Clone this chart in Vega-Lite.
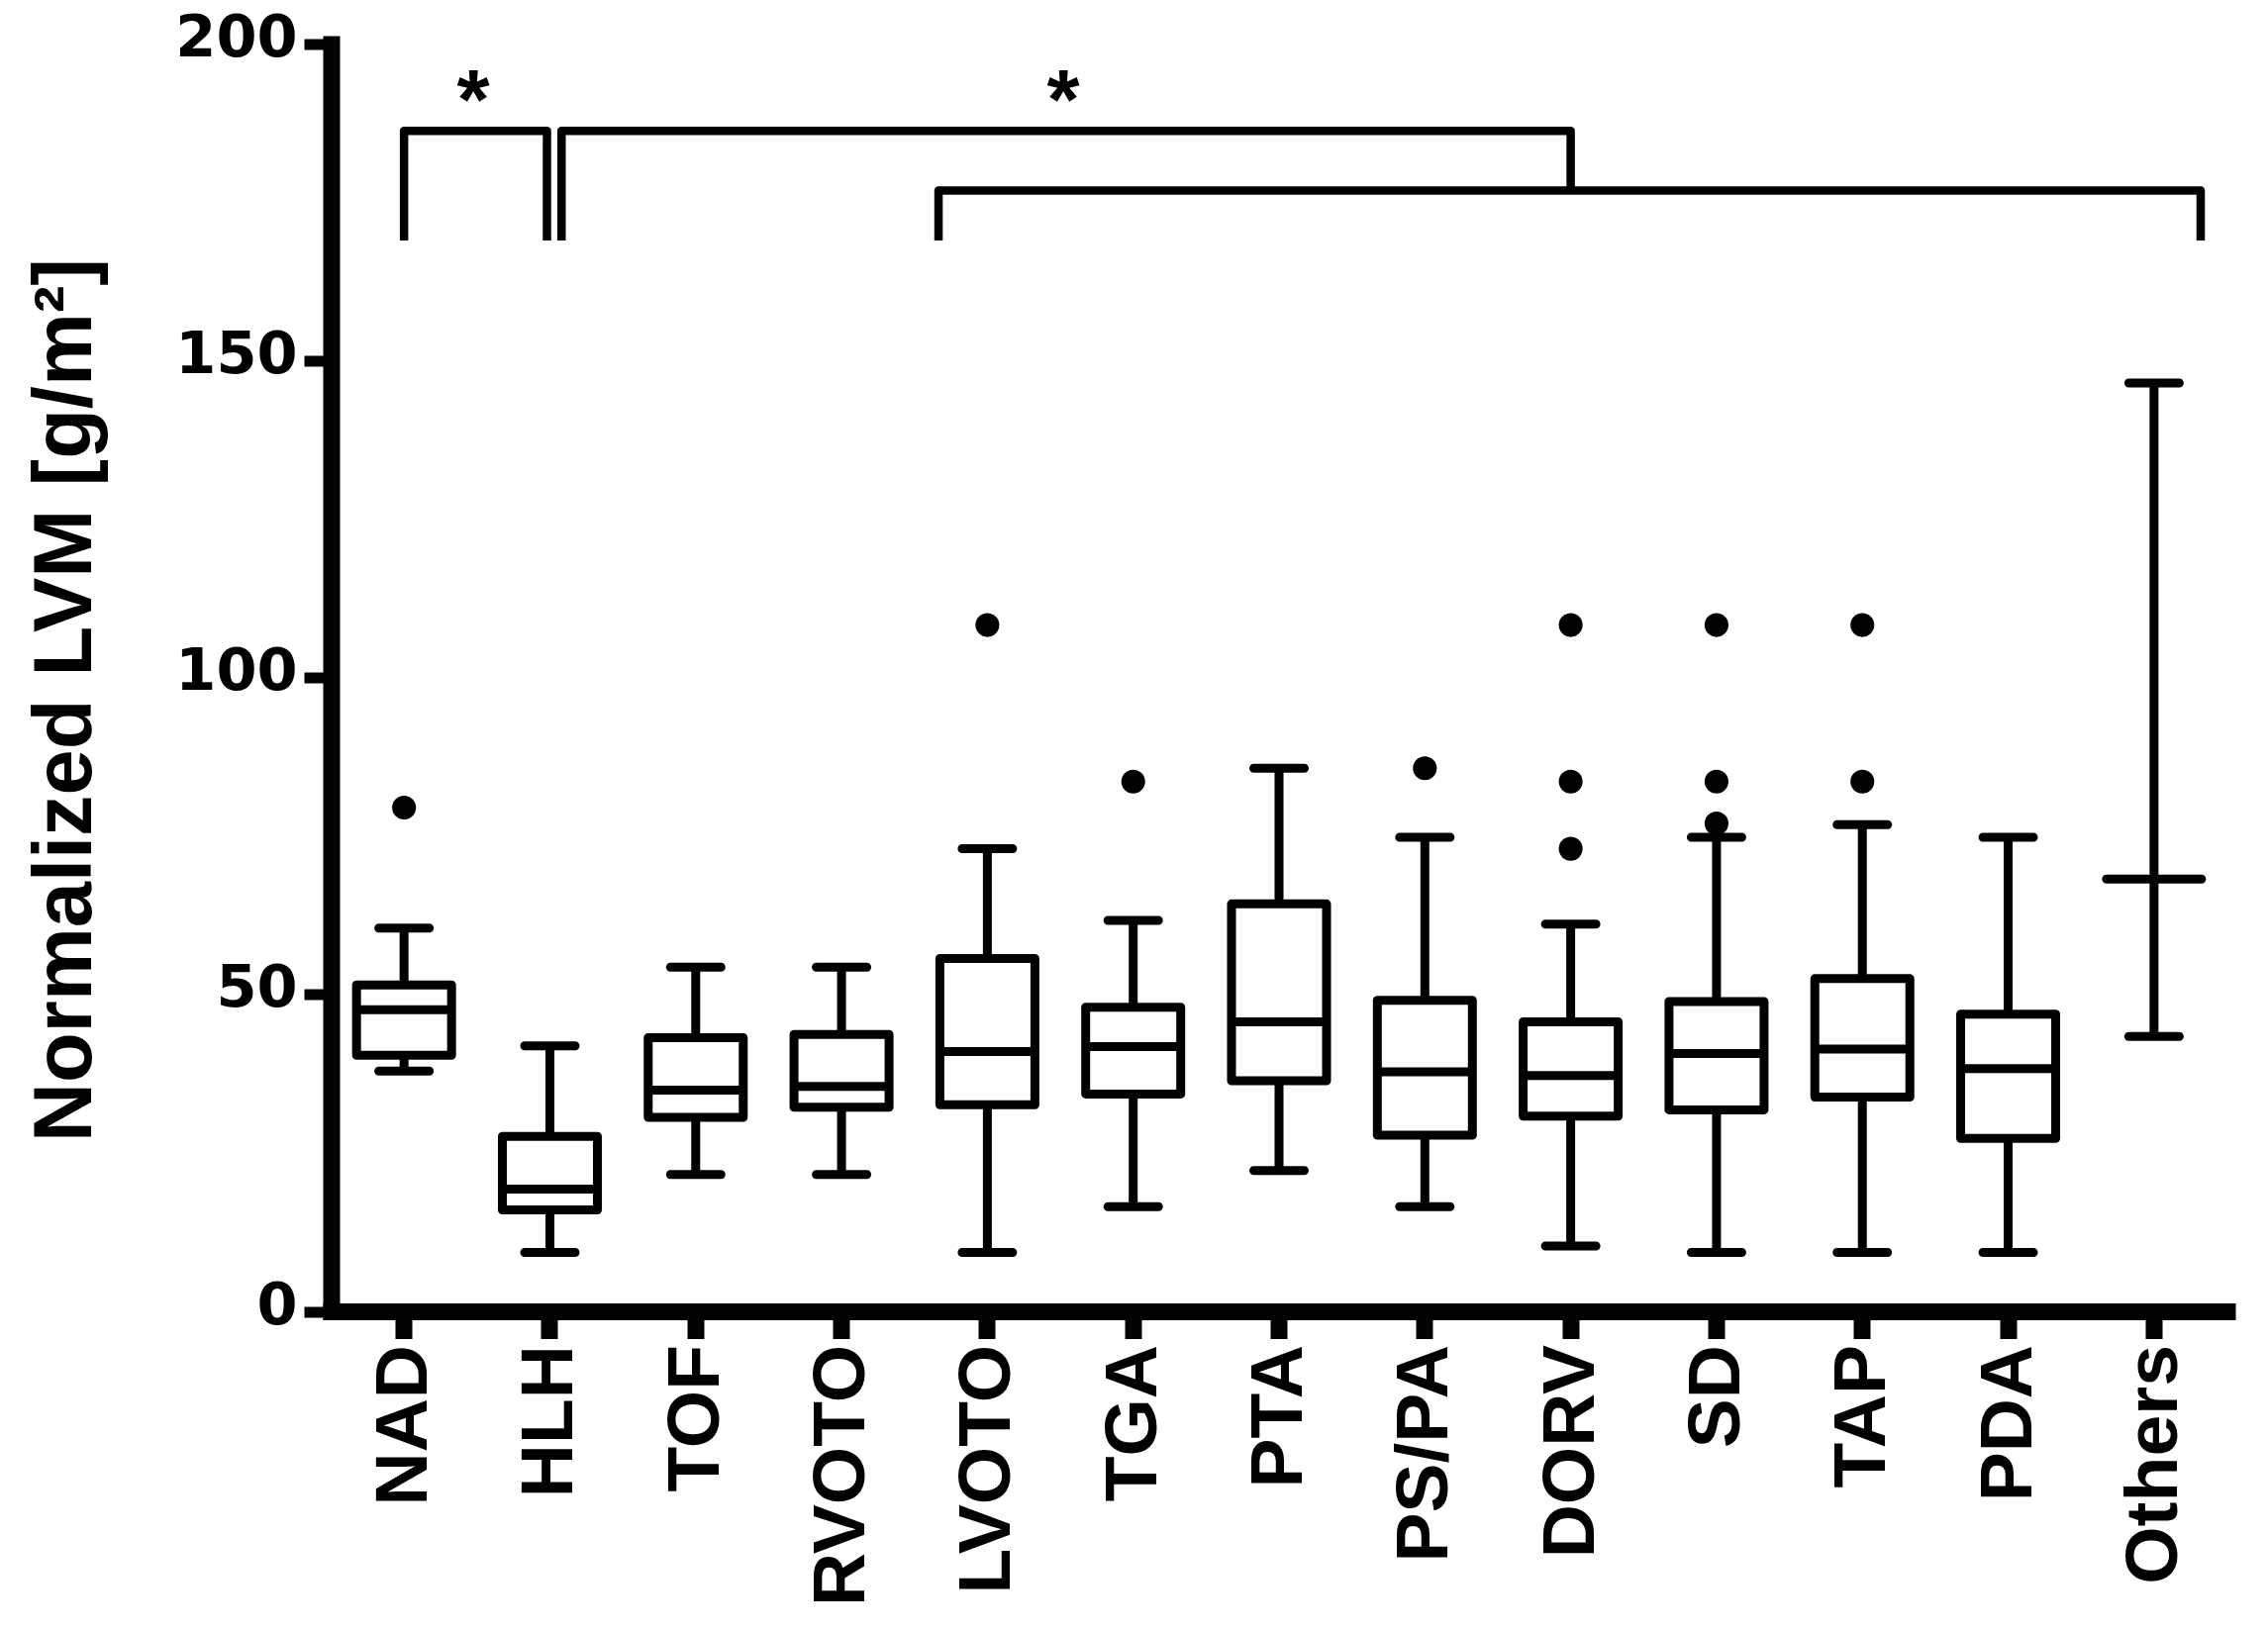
{
  "$schema": "https://vega.github.io/schema/vega-lite/v6.json",
  "width": 1915,
  "height": 1280.5,
  "autosize": {"type": "none"},
  "padding": {"left": 334.5, "top": 44.5, "right": 41.5, "bottom": 323},
  "background": "white",
  "config": {
    "view": {"stroke": null},
    "axis": {"grid": false, "domainColor": "black", "tickColor": "black", "labelColor": "black", "titleColor": "black", "labelOverlap": false, "labelFlush": false, "domainCap": "square", "labelLimit": 0},
    "axisX": {"domainWidth": 17, "tickWidth": 17, "tickSize": 27.5, "labelFont": "Liberation Sans", "labelFontWeight": "bold", "labelFontSize": 75, "labelAngle": -90, "labelPadding": 6},
    "axisY": {"domainWidth": 17, "tickWidth": 11, "tickSize": 27.5, "labelFont": "DejaVu Sans", "labelFontWeight": "bold", "labelFontSize": 59, "labelPadding": 7, "labelOffset": -6, "titleFont": "Liberation Sans", "titleFontWeight": "bold", "titleFontSize": 83, "titleX": -243.5, "titleY": 662.5, "titleAngle": -90, "titleAlign": "center", "titleBaseline": "alphabetic"}
  },
  "datasets": {
    "boxes": [
      {"group": "NAD", "lo": 37.9, "q1": 40.4, "med": 47.6, "q3": 51.5, "hi": 60.5},
      {"group": "HLH", "lo": 9.3, "q1": 16.0, "med": 19.3, "q3": 27.6, "hi": 41.9},
      {"group": "TOF", "lo": 21.6, "q1": 30.6, "med": 34.9, "q3": 43.2, "hi": 54.3},
      {"group": "RVOTO", "lo": 21.6, "q1": 32.2, "med": 35.5, "q3": 43.7, "hi": 54.3},
      {"group": "LVOTO", "lo": 9.3, "q1": 32.6, "med": 41.0, "q3": 55.7, "hi": 73.0},
      {"group": "TGA", "lo": 16.5, "q1": 34.3, "med": 41.8, "q3": 48.0, "hi": 61.7},
      {"group": "PTA", "lo": 22.2, "q1": 36.4, "med": 45.7, "q3": 64.3, "hi": 85.7},
      {"group": "PS/PA", "lo": 16.5, "q1": 27.8, "med": 37.8, "q3": 49.1, "hi": 74.8},
      {"group": "DORV", "lo": 10.3, "q1": 30.8, "med": 37.2, "q3": 45.7, "hi": 61.1},
      {"group": "SD", "lo": 9.3, "q1": 31.8, "med": 40.7, "q3": 48.9, "hi": 74.8},
      {"group": "TAP", "lo": 9.3, "q1": 33.8, "med": 41.4, "q3": 52.5, "hi": 76.8},
      {"group": "PDA", "lo": 9.3, "q1": 27.3, "med": 38.3, "q3": 46.9, "hi": 74.8},
      {"group": "Others", "lo": 43.4, "q1": null, "med": 68.2, "q3": null, "hi": 146.5}
    ],
    "outliers": [
      {"group": "NAD", "value": 79.5},
      {"group": "LVOTO", "value": 108.3},
      {"group": "TGA", "value": 83.6},
      {"group": "PS/PA", "value": 85.7},
      {"group": "DORV", "value": 108.3},
      {"group": "DORV", "value": 83.6},
      {"group": "DORV", "value": 73.0},
      {"group": "SD", "value": 108.3},
      {"group": "SD", "value": 83.6},
      {"group": "SD", "value": 77.0},
      {"group": "TAP", "value": 108.3},
      {"group": "TAP", "value": 83.6}
    ],
    "brackets": [
      {"id": 1, "ord": 0, "bx": 0.5, "by": 169.0},
      {"id": 1, "ord": 1, "bx": 0.5, "by": 186.3},
      {"id": 1, "ord": 2, "bx": 1.48, "by": 186.3},
      {"id": 1, "ord": 3, "bx": 1.48, "by": 169.0},
      {"id": 2, "ord": 0, "bx": 1.58, "by": 169.0},
      {"id": 2, "ord": 1, "bx": 1.58, "by": 186.3},
      {"id": 2, "ord": 2, "bx": 8.5, "by": 186.3},
      {"id": 2, "ord": 3, "bx": 8.5, "by": 176.9},
      {"id": 3, "ord": 0, "bx": 4.165, "by": 169.0},
      {"id": 3, "ord": 1, "bx": 4.165, "by": 176.9},
      {"id": 3, "ord": 2, "bx": 12.82, "by": 176.9},
      {"id": 3, "ord": 3, "bx": 12.82, "by": 169.0}
    ],
    "stars": [
      {"sx": 0.974, "sy": 186.3, "label": "*"},
      {"sx": 5.02, "sy": 186.3, "label": "*"}
    ]
  },
  "layer": [
    {
      "encoding": {
        "x": {"field": "group", "type": "nominal", "title": null,
              "scale": {"domain": ["NAD", "HLH", "TOF", "RVOTO", "LVOTO", "TGA", "PTA", "PS/PA", "DORV", "SD", "TAP", "PDA", "Others"], "paddingInner": 0, "paddingOuter": 0}}
      },
      "layer": [
        {
          "data": {"name": "boxes"},
          "mark": {"type": "rule", "color": "black", "strokeWidth": 9},
          "encoding": {
            "y": {"field": "lo", "type": "quantitative", "title": "Normalized LVM [g/m²]", "scale": {"domain": [0, 200], "nice": false}, "axis": {"values": [0, 50, 100, 150, 200]}},
            "y2": {"field": "hi"}
          }
        },
        {
          "data": {"name": "boxes"},
          "transform": [{"filter": "datum.q1 != null"}],
          "mark": {"type": "bar", "fill": "white", "stroke": "black", "strokeWidth": 9, "width": 96, "strokeJoin": "round"},
          "encoding": {
            "y": {"field": "q1", "type": "quantitative", "title": "Normalized LVM [g/m²]"},
            "y2": {"field": "q3"}
          }
        },
        {
          "data": {"name": "boxes"},
          "transform": [{"filter": "datum.q1 != null"}],
          "mark": {"type": "tick", "color": "black", "thickness": 9, "size": 96, "opacity": 1},
          "encoding": {
            "y": {"field": "med", "type": "quantitative", "title": "Normalized LVM [g/m²]"}
          }
        },
        {
          "data": {"name": "boxes"},
          "transform": [{"filter": "datum.q1 == null"}],
          "mark": {"type": "tick", "color": "black", "thickness": 9, "size": 105, "opacity": 1, "cornerRadius": 4.5},
          "encoding": {
            "y": {"field": "med", "type": "quantitative", "title": "Normalized LVM [g/m²]"}
          }
        },
        {
          "data": {"name": "boxes"},
          "mark": {"type": "tick", "color": "black", "thickness": 9, "size": 60, "opacity": 1, "cornerRadius": 4.5},
          "encoding": {
            "y": {"field": "lo", "type": "quantitative", "title": "Normalized LVM [g/m²]"}
          }
        },
        {
          "data": {"name": "boxes"},
          "mark": {"type": "tick", "color": "black", "thickness": 9, "size": 60, "opacity": 1, "cornerRadius": 4.5},
          "encoding": {
            "y": {"field": "hi", "type": "quantitative", "title": "Normalized LVM [g/m²]"}
          }
        },
        {
          "data": {"name": "outliers"},
          "mark": {"type": "point", "filled": true, "color": "black", "size": 580, "opacity": 1},
          "encoding": {
            "y": {"field": "value", "type": "quantitative", "title": "Normalized LVM [g/m²]"}
          }
        }
      ]
    },
    {
      "encoding": {
        "x": {"field": "bx", "type": "quantitative", "axis": null, "scale": {"domain": [0, 13], "nice": false, "zero": false}}
      },
      "layer": [
        {
          "data": {"name": "brackets"},
          "mark": {"type": "line", "color": "black", "strokeWidth": 8.5, "strokeJoin": "round", "strokeCap": "butt"},
          "encoding": {
            "y": {"field": "by", "type": "quantitative", "title": "Normalized LVM [g/m²]"},
            "detail": {"field": "id", "type": "nominal"},
            "order": {"field": "ord", "type": "quantitative"}
          }
        },
        {
          "data": {"name": "stars"},
          "mark": {"type": "text", "color": "black", "font": "Liberation Sans", "fontWeight": "bold", "fontSize": 85, "align": "center", "baseline": "alphabetic", "dy": -2},
          "encoding": {
            "x": {"field": "sx", "type": "quantitative", "axis": null, "scale": {"domain": [0, 13], "nice": false, "zero": false}},
            "y": {"field": "sy", "type": "quantitative", "title": "Normalized LVM [g/m²]"},
            "text": {"field": "label"}
          }
        }
      ]
    }
  ],
  "resolve": {"scale": {"x": "independent"}}
}
